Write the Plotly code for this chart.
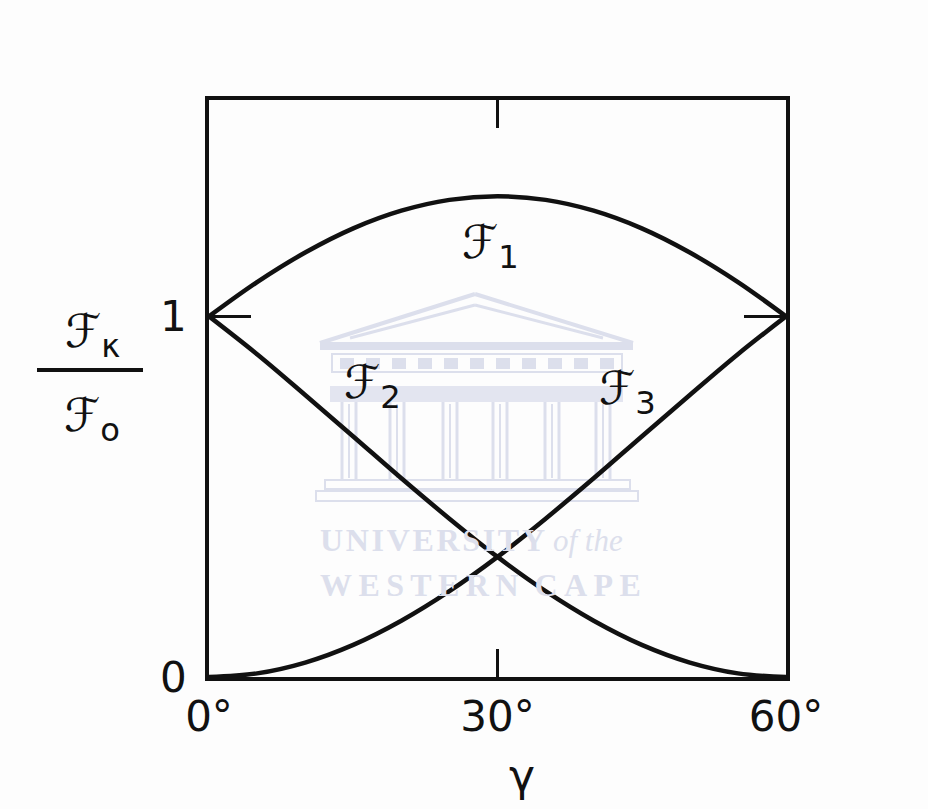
import plotly.graph_objects as go

# Reduced moments ℱ_k/ℱ_0 versus the deformation angle γ (degrees)
gamma = [0, 5, 10, 15, 20, 25, 30, 35, 40, 45, 50, 55, 60]
f1 = [1.000, 1.095, 1.177, 1.244, 1.293, 1.323, 1.333, 1.323, 1.293, 1.244, 1.177, 1.095, 1.000]
f2 = [1.000, 0.895, 0.782, 0.667, 0.551, 0.439, 0.333, 0.238, 0.156, 0.089, 0.040, 0.010, 0.000]
f3 = [0.000, 0.010, 0.040, 0.089, 0.156, 0.238, 0.333, 0.439, 0.551, 0.667, 0.782, 0.895, 1.000]

x_ticks = [0, 30, 60]
x_ticktext = ["0°", "30°", "60°"]
y_ticks = [0, 1]
y_ticktext = ["0", "1"]

W, H = 928, 809
L, R, T, B = 209, 786, 100, 677
INK = "#111111"
WM = "#dcdfec"
FONT = "DejaVu Sans"


def px(x):
    return (x - L) / (R - L)


def py(y):
    return (B - y) / (B - T)


fig = go.Figure()

for ys in (f1, f2, f3):
    fig.add_trace(go.Scatter(x=gamma, y=ys, mode="lines",
                             line=dict(color=INK, width=4.5, shape="spline"),
                             hoverinfo="skip", showlegend=False))

shapes = []


def wm_rect(x0, y0, x1, y1, fill=None, width=2):
    shapes.append(dict(type="rect", xref="paper", yref="paper", layer="below",
                       x0=px(x0), x1=px(x1), y0=py(y0), y1=py(y1),
                       line=dict(color=WM, width=0 if fill else width),
                       fillcolor=fill if fill else "rgba(0,0,0,0)"))


def wm_line(x0, y0, x1, y1, width=3):
    shapes.append(dict(type="line", xref="paper", yref="paper", layer="below",
                       x0=px(x0), x1=px(x1), y0=py(y0), y1=py(y1),
                       line=dict(color=WM, width=width)))


# faint temple emblem behind the curves
wm_line(320, 343, 475, 294, 4)
wm_line(475, 294, 633, 343, 4)
wm_line(350, 338, 475, 305, 3)
wm_line(475, 305, 603, 338, 3)
wm_rect(320, 342, 633, 350, fill=WM)
wm_rect(332, 354, 622, 372, width=2)
for bx in range(340, 620, 26):
    wm_rect(bx, 358, bx + 14, 369, fill=WM)
wm_rect(330, 386, 623, 402, fill="#e3e5f0")
for cx in (349, 397, 450, 500, 552, 603):
    wm_line(cx - 7, 402, cx - 7, 480, 3)
    wm_line(cx + 7, 402, cx + 7, 480, 3)
    wm_line(cx, 404, cx, 478, 2)
wm_rect(325, 480, 630, 489, width=2)
wm_rect(316, 491, 638, 501, width=2)

# fraction bar of the y-axis label
shapes.append(dict(type="line", xref="paper", yref="paper",
                   x0=px(37), x1=px(143), y0=py(370), y1=py(370),
                   line=dict(color=INK, width=4)))

HS = "\u200a"
TS = "\u2009"
NB = "\u00a0"
annotations = [
    dict(x=px(318), y=py(540), xanchor="left",
         text="<b>" + HS.join("UNIVERSITY") + "</b>" + NB
              + "<i style='font-size:31px'>of the</i>",
         font=dict(family="Liberation Serif", size=32, color=WM)),
    dict(x=px(318), y=py(585), xanchor="left",
         text="<b>" + TS.join("WESTERN") + NB + NB + TS.join("CAPE") + "</b>",
         font=dict(family="Liberation Serif", size=32, color=WM)),
    dict(x=px(490), y=py(245), text="ℱ<sub>1</sub>", font=dict(family=FONT, size=46, color=INK)),
    dict(x=px(372), y=py(385), text="ℱ<sub>2</sub>", font=dict(family=FONT, size=46, color=INK)),
    dict(x=px(627), y=py(392), text="ℱ<sub>3</sub>", font=dict(family=FONT, size=46, color=INK)),
    dict(x=px(92), y=py(334), text="ℱ<sub>κ</sub>", font=dict(family=FONT, size=46, color=INK)),
    dict(x=px(92), y=py(418), text="ℱ<sub>o</sub>", font=dict(family=FONT, size=46, color=INK)),
    dict(x=px(522), y=py(776), text="γ", font=dict(family=FONT, size=44, color=INK)),
]
for a in annotations:
    a.setdefault("xanchor", "center")
    a.update(xref="paper", yref="paper", showarrow=False, yanchor="middle")

fig.update_layout(
    width=W, height=H,
    margin=dict(l=L, r=W - R, t=T, b=H - B, pad=0),
    paper_bgcolor="#fdfdfd", plot_bgcolor="rgba(0,0,0,0)",
    shapes=shapes, annotations=annotations,
    xaxis=dict(range=[0, 60], tickvals=x_ticks, ticktext=x_ticktext,
               ticks="inside", ticklen=28, tickwidth=3, tickcolor=INK,
               showline=True, linecolor=INK, linewidth=3.5, mirror="ticks",
               showgrid=False, zeroline=False,
               tickfont=dict(family=FONT, size=42, color=INK)),
    yaxis=dict(range=[0, 1.6], tickvals=y_ticks, ticktext=y_ticktext,
               ticks="inside", ticklen=42, tickwidth=3, tickcolor=INK,
               showline=True, linecolor=INK, linewidth=3.5, mirror="ticks",
               showgrid=False, zeroline=False, ticklabelstandoff=10,
               tickfont=dict(family=FONT, size=42, color=INK)),
)

fig.write_html("out.html")
